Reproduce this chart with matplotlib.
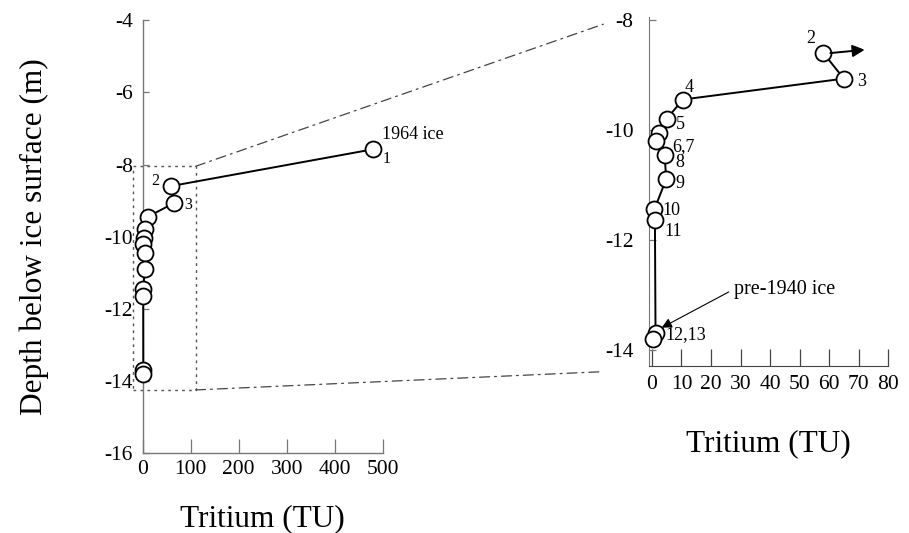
import numpy as np
import matplotlib
matplotlib.use("Agg")
import matplotlib.pyplot as plt
from matplotlib.patches import Rectangle, ConnectionPatch

plt.rcParams['font.family'] = ['Liberation Serif', 'DejaVu Serif']
plt.rcParams['axes.unicode_minus'] = False

# Dados: trítio (TU) e profundidade (m)
sample_ids = ['1', '2', '3', '4', '5', '6', '7', '8', '9', '10', '11', '12', '13']
tritium = [479, 58, 65, 10.5, 5, 2.5, 1.3, 4.3, 4.8, 0.8, 1.0, 1.2, 0.3]
depth = [-7.58, -8.6, -9.07, -9.45, -9.8, -10.05, -10.2, -10.45, -10.9,
         -11.45, -11.65, -13.7, -13.8]

left_xticks = [0, 100, 200, 300, 400, 500]
left_yticks = [-16, -14, -12, -10, -8, -6, -4]
right_xticks = [0, 10, 20, 30, 40, 50, 60, 70, 80]
right_yticks = [-14, -12, -10, -8]

# caixa de zoom no painel esquerdo
zoom_box = (-20, 110, -14.25, -8.05)

spine_col = '#777777'

fig = plt.figure(figsize=(9.09, 5.33), dpi=100)
ax1 = fig.add_axes([0.157, 0.150, 0.264, 0.812])
ax2 = fig.add_axes([0.714, 0.313, 0.263, 0.655])

line_kw = dict(color='black', lw=1.4, marker='o', ms=11.5, mfc='white',
               mec='black', mew=1.3)

# Painel esquerdo
ax1.plot(tritium, depth, **line_kw, clip_on=False, zorder=3)
ax1.set_xlim(0, 500)
ax1.set_ylim(-16, -4)
ax1.set_xticks(left_xticks)
ax1.set_yticks(left_yticks)
ax1.tick_params(axis='x', direction='in', length=10, width=0.9,
                color=spine_col, labelsize=15.5, pad=5)
ax1.tick_params(axis='y', direction='in', length=4, width=0.9,
                color=spine_col, labelsize=15.5, pad=7)
ax1.set_xlabel('Tritium (TU)', fontsize=22.5, labelpad=18)
ax1.set_ylabel('Depth below ice surface (m)', fontsize=22.5, labelpad=40)
for s in ['top', 'right']:
    ax1.spines[s].set_visible(False)
for s in ['left', 'bottom']:
    ax1.spines[s].set_color(spine_col)
    ax1.spines[s].set_linewidth(1.0)

x0, x1, y0, y1 = zoom_box
rect = Rectangle((x0, y0), x1 - x0, y1 - y0, fill=False, ls=(0, (2, 3)),
                 lw=1.0, ec='#555555', clip_on=False, zorder=1)
ax1.add_patch(rect)

ax1.text(tritium[0] + 19, depth[0] + 0.42, '1964 ice', fontsize=13,
         ha='left', va='center')
ax1.text(tritium[0] + 21, depth[0] - 0.26, sample_ids[0], fontsize=11.5,
         ha='left', va='center')
ax1.text(tritium[1] - 31, depth[1] + 0.14, sample_ids[1], fontsize=11.5,
         ha='center', va='center')
ax1.text(tritium[2] + 21, depth[2] - 0.04, sample_ids[2], fontsize=11.5,
         ha='left', va='center')

# Painel direito (ampliação)
ax2.plot(tritium[1:], depth[1:], **line_kw, clip_on=False, zorder=3)
ax2.set_xlim(-1, 80)
ax2.set_ylim(-14.3, -7.95)
ax2.set_xticks(right_xticks)
ax2.set_yticks(right_yticks)
ax2.tick_params(axis='x', direction='in', length=12, width=0.9,
                color='#444444', labelsize=15.5, pad=6)
ax2.tick_params(axis='y', direction='in', length=5, width=0.9,
                color=spine_col, labelsize=15.5, pad=11)
ax2.set_xlabel('Tritium (TU)', fontsize=22.5, labelpad=26)
for s in ['top', 'right']:
    ax2.spines[s].set_visible(False)
ax2.spines['left'].set_color(spine_col)
ax2.spines['bottom'].set_color('#444444')

# seta indicando que o ponto 1 está fora da escala
ax2.annotate('', xy=(tritium[1] + 15, depth[1] + 0.06),
             xytext=(tritium[1] + 1.5, depth[1] - 0.01),
             arrowprops=dict(arrowstyle='-|>', color='black', lw=1.4,
                             mutation_scale=18), annotation_clip=False)

right_labels = [
    ('2', 53.8, -8.34, 'center'),
    ('3', 69.5, -9.12, 'left'),
    ('4', 12.7, -9.23, 'center'),
    ('5', 8.0, -9.91, 'left'),
    ('6,7', 7.0, -10.3, 'left'),
    ('8', 8.0, -10.6, 'left'),
    ('9', 8.0, -10.98, 'left'),
    ('10', 3.7, -11.47, 'left'),
    ('11', 4.3, -11.85, 'left'),
    ('12,13', 4.7, -13.72, 'left'),
]
for txt, xx, yy, ha in right_labels:
    ax2.text(xx, yy, txt, fontsize=13, ha=ha, va='center')

ax2.text(45, -12.9, 'pre-1940 ice', fontsize=14.5, ha='center', va='center')
ax2.annotate('', xy=(3.3, -13.6), xytext=(26, -12.95),
             arrowprops=dict(arrowstyle='-|>', color='black', lw=0.8,
                             mutation_scale=15, shrinkA=0, shrinkB=0),
             annotation_clip=False)

# linhas traço-ponto ligando a caixa ao painel direito
for ya, yb in [(y1, -8.08), (y0, -14.4)]:
    con = ConnectionPatch(xyA=(x1, ya), coordsA=ax1.transData,
                          xyB=(-16.5, yb), coordsB=ax2.transData,
                          ls=(0, (8, 4, 1.5, 4)), lw=0.9, color='#444444')
    fig.add_artist(con)

fig.savefig('out.png', dpi=100)
